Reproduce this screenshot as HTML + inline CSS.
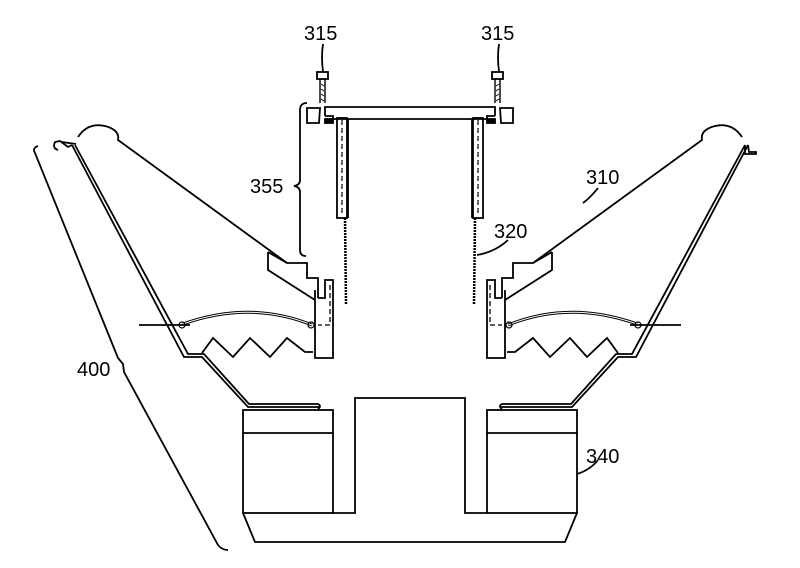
<!DOCTYPE html>
<html><head><style>body{margin:0;background:#fff}svg{display:block}text{font-family:"Liberation Sans",sans-serif;font-size:20px;fill:#000}</style></head><body>
<svg width="800" height="568" viewBox="0 0 800 568" fill="none" stroke="#000" stroke-width="1.8">
<defs><g id="half">
<!-- basket -->
<path d="M72,145 L184,357 L202,357 L248,407 L320,407"/>
<path d="M75,145 L188,354 L204,354 L249,404 L318,404 Q322,406 318,409"/>
<!-- surround dome & cone -->
<path d="M78,137 Q88,122 105,126 Q120,130 118,140 L287,263 L307,263 L307,278 L318,278 L318,298"/>
<path d="M268,252 L268,270 L315,300"/>
<path d="M268,252 L287,263"/>
<path d="M315,290 L315,358 L333,358 L333,280 L325,280 L325,298 L318,298"/>
<path d="M330,285 L330,325 L318,325" stroke-dasharray="5,3" stroke-width="1.3"/>
<!-- spider arc -->
<path d="M183,324 Q250,300 312,325" stroke-width="3"/>
<path d="M183,324 Q250,300 312,325" stroke="#fff" stroke-width="1"/>
<path d="M139,325 L190,325"/>
<circle cx="182" cy="325" r="3" stroke-width="1.2"/>
<circle cx="311" cy="325" r="3" stroke-width="1.2"/>
<path d="M202,353 L213,338 L233,357 L250,338 L270,357 L287,338 L305,352 L313,352"/>
<!-- magnet -->
<rect x="243" y="410" width="90" height="103"/>
<path d="M243,433 L333,433"/>
<path d="M243,513 L255,542 L410,542"/>
<path d="M333,513 L355,513 L355,398 L410,398"/>
<!-- top assembly -->
<path d="M320,108 L307,108 L307,123 L319,123 Z"/>
<path d="M325,116 L325,107 L410,107 M325,116 L333,116 L333,119 L348,119 L410,119"/>
<rect x="325" y="119" width="8" height="4" fill="#000"/>
<rect x="337" y="118" width="10" height="100"/>
<path d="M342,120 L342,216" stroke-dasharray="5,3" stroke-width="1.2"/>
<path d="M348,119 L348,218"/>
<path d="M345,218 L346,304" stroke-width="2.5" stroke-dasharray="2,1"/>
<rect x="317" y="72" width="11" height="7" fill="#fff"/>
<path d="M320,79 L320,103 M325,79 L325,103" stroke-width="1.4"/>
<path d="M321,84 L324,86 M321,89 L324,91 M321,94 L324,96 M321,99 L324,101" stroke-width="0.8"/>
</g></defs>
<use href="#half"/>
<use href="#half" transform="translate(820,0) scale(-1,1)"/>
<!-- left hook -->
<path d="M58,150 Q52,148 55,142 L60,141 L68,147 L72,145 M62,142 L76,144"/>
<!-- right tab -->
<path d="M745,145 L745,154 L756,154 L756,152 L749,152 L748,145"/>
<!-- 355 brace -->
<path d="M307,103 Q300,103 300,110 L300,180 Q300,185 294,186 Q300,187 300,192 L300,250 Q300,256 306,256"/>
<!-- 400 brace -->
<path d="M38,146 Q32,148 35,153 L118,358 L123,364 L124,372 L218,545 Q222,550 228,550"/>
<!-- leaders -->
<path d="M323,44 Q321,58 323,71 M499,44 Q497,58 499,71"/>
<path d="M598,188 Q590,198 583,203"/>
<path d="M508,240 Q495,252 477,255"/>
<path d="M598,460 Q590,470 577,474"/>
<text x="304" y="40" stroke="none">315</text>
<text x="481" y="40" stroke="none">315</text>
<text x="250" y="193" stroke="none">355</text>
<text x="586" y="184" stroke="none">310</text>
<text x="494" y="238" stroke="none">320</text>
<text x="77" y="376" stroke="none">400</text>
<text x="586" y="463" stroke="none">340</text>
</svg>
</body></html>
